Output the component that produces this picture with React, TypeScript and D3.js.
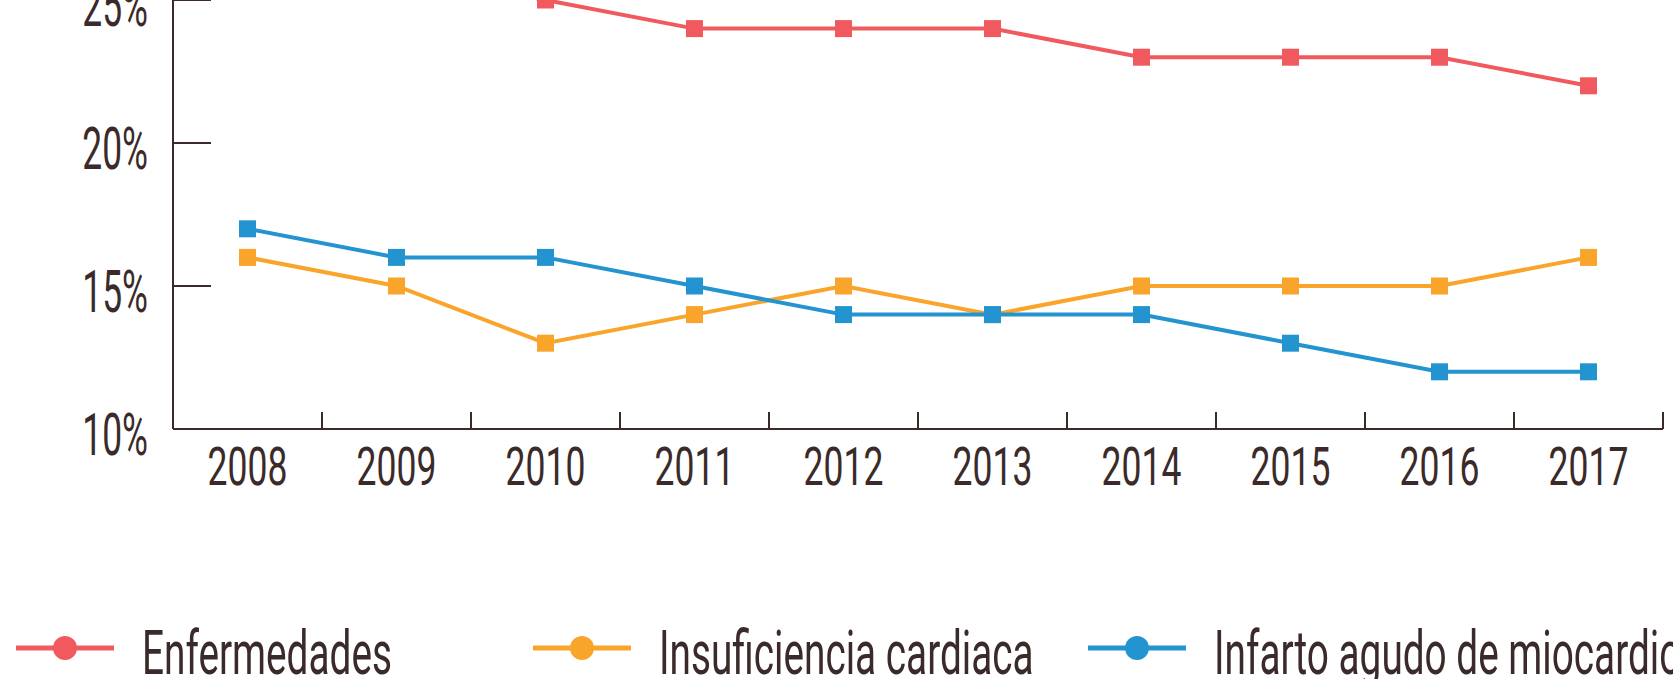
import React from 'react';
import * as d3 from 'd3';

const years = ['2008', '2009', '2010', '2011', '2012', '2013', '2014', '2015', '2016', '2017'];
const enfermedades = [27, 26, 25, 24, 24, 24, 23, 23, 23, 22];
const insuficiencia = [16, 15, 13, 14, 15, 14, 15, 15, 15, 16];
const infarto = [17, 16, 16, 15, 14, 14, 14, 13, 12, 12];
const yTicks = [10, 15, 20, 25, 30];

const seriesNames = ['Enfermedades', 'Insuficiencia cardiaca', 'Infarto agudo de miocardio'];
const seriesColors = ['#F05A5E', '#F9A52B', '#2394CF'];
const seriesValues = [enfermedades, insuficiencia, infarto];

const W = 1673;
const H = 679;
const ink = '#3A2B2A';
const font = 'Roboto, sans-serif';

const App = () => {
  const x = d3.scaleBand<string>().domain(years).range([173, 1663]);
  const y = d3.scaleLinear().domain([10, 25]).range([429, 0]);
  const lineGen = d3.line<number>()
    .x((d, i) => (x(years[i]) as number) + x.bandwidth() / 2)
    .y(d => y(d));

  const legendX = [16, 533, 1088];
  const legendY = 648;

  return (
    <svg width={W} height={H} style={{ position: 'absolute', left: 0, top: 0, background: '#fff' }}>
      {/* y axis */}
      <line x1={173} x2={173} y1={y(30)} y2={429} stroke={ink} strokeWidth={2} />
      {yTicks.map(t => (
        <g key={t}>
          <line x1={173} x2={211} y1={y(t)} y2={y(t)} stroke={ink} strokeWidth={2} />
          <text
            transform={`translate(148,${y(t) + 26}) scale(0.6,1)`}
            textAnchor="end"
            fontFamily={font}
            fontSize={59}
            fill={ink}
          >{t}%</text>
        </g>
      ))}

      {/* x axis */}
      <line x1={173} x2={1663} y1={429} y2={429} stroke={ink} strokeWidth={2} />
      {years.map(yr => {
        const b = (x(yr) as number) + x.bandwidth();
        return <line key={'t' + yr} x1={b} x2={b} y1={429} y2={412} stroke={ink} strokeWidth={2} />;
      })}
      {years.map(yr => (
        <text
          key={yr}
          transform={`translate(${(x(yr) as number) + x.bandwidth() / 2},485) scale(0.67,1)`}
          textAnchor="middle"
          fontFamily={font}
          fontSize={53}
          fill={ink}
        >{yr}</text>
      ))}

      {/* series */}
      {seriesValues.map((vals, si) => (
        <g key={si}>
          <path d={lineGen(vals) || ''} fill="none" stroke={seriesColors[si]} strokeWidth={4} />
          {vals.map((v, i) => (
            <rect
              key={i}
              x={(x(years[i]) as number) + x.bandwidth() / 2 - 8.5}
              y={y(v) - 8.5}
              width={17}
              height={17}
              fill={seriesColors[si]}
            />
          ))}
        </g>
      ))}

      {/* legend */}
      {seriesNames.map((name, i) => (
        <g key={name} transform={`translate(${legendX[i]},${legendY})`}>
          <line x1={0} x2={98} y1={0} y2={0} stroke={seriesColors[i]} strokeWidth={5} />
          <circle cx={49} cy={0} r={12} fill={seriesColors[i]} />
          <text
            transform={`translate(126,26) scale(0.625,1)`}
            fontFamily={font}
            fontSize={62}
            fill={ink}
          >{name}</text>
        </g>
      ))}
    </svg>
  );
};

export default App;
